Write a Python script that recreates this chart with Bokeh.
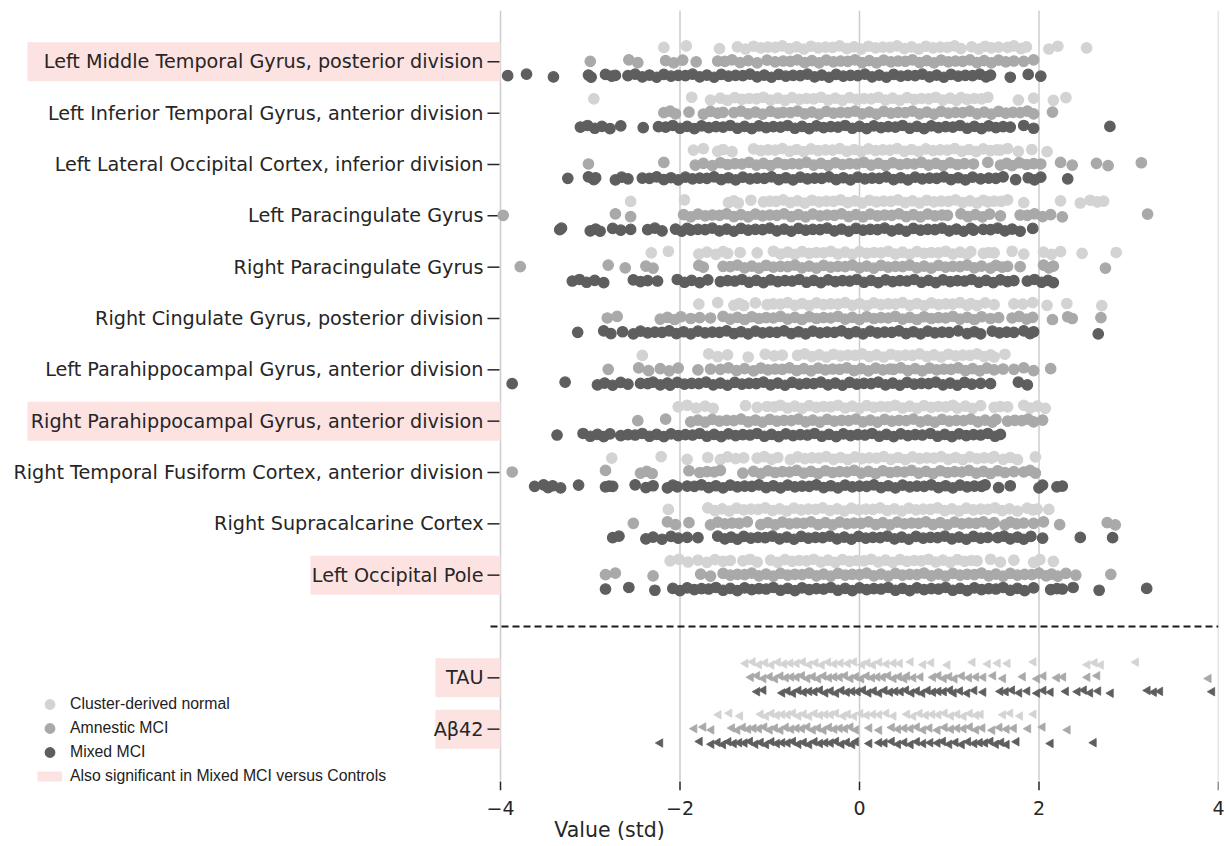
from bokeh.plotting import figure
from bokeh.models import Range1d, FixedTicker, Legend, LegendItem, ColumnDataSource
from bokeh.core.properties import value
from bokeh.embed import file_html
from bokeh.resources import INLINE
import math

# ---------------- data ----------------
regions = [
    "Left Middle Temporal Gyrus, posterior division",
    "Left Inferior Temporal Gyrus, anterior division",
    "Left Lateral Occipital Cortex, inferior division",
    "Left Paracingulate Gyrus",
    "Right Paracingulate Gyrus",
    "Right Cingulate Gyrus, posterior division",
    "Left Parahippocampal Gyrus, anterior division",
    "Right Parahippocampal Gyrus, anterior division",
    "Right Temporal Fusiform Cortex, anterior division",
    "Right Supracalcarine Cortex",
    "Left Occipital Pole",
]
biomarkers = ["TAU", "Aβ42"]
highlighted = ["Left Middle Temporal Gyrus, posterior division",
               "Right Parahippocampal Gyrus, anterior division",
               "Left Occipital Pole", "TAU", "Aβ42"]
group_names = ["Cluster-derived normal", "Amnestic MCI", "Mixed MCI"]
highlight_name = "Also significant in Mixed MCI versus Controls"

normal_regions = [
    [-2.18,-1.93,-1.56,-1.36,-1.27,-1.18,-1.10,-1.02,-0.94,-0.86,-0.78,-0.70,-0.62,-0.54,-0.46,-0.38,-0.30,-0.22,-0.14,-0.06,0.02,0.10,0.18,0.26,0.34,0.42,0.50,0.58,0.66,0.74,0.82,0.90,0.98,1.06,1.13,1.25,1.33,1.40,1.47,1.55,1.65,1.72,1.80,1.86,2.11,2.21,2.53],
    [-2.96,-1.87,-1.66,-1.55,-1.47,-1.39,-1.31,-1.23,-1.15,-1.07,-0.99,-0.91,-0.83,-0.75,-0.67,-0.59,-0.51,-0.43,-0.35,-0.27,-0.19,-0.11,-0.03,0.05,0.13,0.21,0.29,0.37,0.45,0.53,0.61,0.69,0.77,0.85,0.93,1.01,1.08,1.13,1.20,1.28,1.36,1.43,1.77,1.94,2.16,2.30],
    [-1.85,-1.74,-1.58,-1.52,-1.42,-1.18,-1.10,-1.02,-0.94,-0.86,-0.78,-0.70,-0.62,-0.54,-0.46,-0.38,-0.30,-0.22,-0.14,-0.06,0.02,0.10,0.18,0.26,0.34,0.42,0.50,0.58,0.66,0.74,0.82,0.90,0.98,1.06,1.14,1.22,1.30,1.38,1.46,1.53,1.57,1.65,1.77,1.92,2.09],
    [-2.55,-1.95,-1.46,-1.40,-1.35,-1.21,-1.07,-1.00,-0.93,-0.85,-0.77,-0.69,-0.61,-0.53,-0.45,-0.37,-0.29,-0.21,-0.13,-0.05,0.03,0.11,0.19,0.27,0.35,0.43,0.51,0.59,0.67,0.75,0.83,0.91,0.99,1.07,1.15,1.23,1.31,1.38,1.43,1.50,1.58,1.65,1.83,2.24,2.46,2.57,2.65,2.72],
    [-2.32,-2.13,-1.79,-1.70,-1.60,-1.52,-1.47,-1.33,-1.14,-0.96,-0.88,-0.80,-0.72,-0.64,-0.56,-0.48,-0.40,-0.32,-0.24,-0.16,-0.08,0.00,0.08,0.16,0.24,0.32,0.40,0.48,0.56,0.64,0.72,0.80,0.88,0.96,1.04,1.12,1.20,1.24,1.38,1.44,1.50,1.70,1.83,2.05,2.14,2.24,2.48,2.86],
    [-1.79,-1.58,-1.40,-1.34,-1.29,-1.16,-1.03,-0.96,-0.88,-0.80,-0.72,-0.64,-0.56,-0.48,-0.40,-0.32,-0.24,-0.16,-0.08,0.00,0.08,0.16,0.24,0.32,0.40,0.48,0.56,0.64,0.72,0.80,0.88,0.96,1.04,1.12,1.20,1.24,1.31,1.40,1.50,1.72,1.82,1.93,2.09,2.31,2.70],
    [-2.42,-1.68,-1.58,-1.47,-1.24,-1.05,-0.95,-0.86,-0.69,-0.61,-0.53,-0.45,-0.37,-0.29,-0.21,-0.13,-0.05,0.03,0.11,0.19,0.27,0.35,0.43,0.51,0.59,0.67,0.75,0.83,0.91,0.99,1.07,1.15,1.23,1.31,1.39,1.46,1.50,1.62],
    [-2.02,-1.92,-1.82,-1.72,-1.63,-1.27,-1.14,-1.03,-0.95,-0.88,-0.80,-0.72,-0.64,-0.56,-0.48,-0.40,-0.32,-0.24,-0.16,-0.08,0.00,0.08,0.16,0.24,0.32,0.40,0.48,0.56,0.64,0.72,0.80,0.88,0.96,1.04,1.09,1.18,1.26,1.35,1.50,1.57,1.65,1.83,1.90,1.98,2.07],
    [-2.76,-2.21,-1.92,-1.69,-1.55,-1.47,-1.38,-1.29,-1.14,-1.06,-0.98,-0.91,-0.77,-0.69,-0.61,-0.53,-0.45,-0.37,-0.29,-0.21,-0.13,-0.05,0.03,0.11,0.19,0.27,0.35,0.43,0.51,0.59,0.67,0.75,0.83,0.91,0.99,1.07,1.15,1.23,1.31,1.39,1.47,1.50,1.60,1.68,1.76,1.96],
    [-2.13,-1.69,-1.61,-1.53,-1.45,-1.37,-1.29,-1.21,-1.13,-1.05,-0.97,-0.89,-0.81,-0.73,-0.65,-0.57,-0.49,-0.41,-0.33,-0.25,-0.17,-0.09,-0.01,0.07,0.15,0.23,0.31,0.39,0.47,0.55,0.63,0.71,0.79,0.87,0.95,1.03,1.11,1.19,1.27,1.35,1.43,1.51,1.59,1.67,1.76,1.87,1.93,1.98,2.11],
    [-2.11,-2.01,-1.91,-1.80,-1.70,-1.61,-1.52,-1.44,-1.30,-1.22,-1.14,-0.99,-0.91,-0.83,-0.75,-0.67,-0.59,-0.51,-0.43,-0.35,-0.27,-0.19,-0.11,-0.03,0.05,0.13,0.21,0.29,0.37,0.45,0.53,0.61,0.69,0.77,0.85,0.93,1.01,1.09,1.17,1.25,1.31,1.46,1.57,1.72,1.94,2.01,2.16],
]
amnestic_regions = [
    [-3.00,-2.57,-2.47,-2.16,-2.07,-1.97,-1.82,-1.58,-1.50,-1.42,-1.33,-1.24,-1.14,-1.03,-0.94,-0.85,-0.77,-0.69,-0.61,-0.53,-0.45,-0.37,-0.29,-0.21,-0.13,-0.05,0.03,0.11,0.19,0.27,0.35,0.43,0.51,0.59,0.67,0.75,0.83,0.91,0.99,1.07,1.15,1.23,1.31,1.39,1.47,1.55,1.63,1.72,1.83,1.94],
    [-2.18,-2.11,-2.05,-1.90,-1.74,-1.66,-1.58,-1.52,-1.40,-1.32,-1.24,-1.16,-1.08,-0.99,-0.91,-0.85,-0.77,-0.69,-0.61,-0.53,-0.45,-0.37,-0.29,-0.21,-0.13,-0.05,0.03,0.11,0.19,0.27,0.35,0.43,0.51,0.59,0.67,0.75,0.83,0.91,0.99,1.07,1.15,1.23,1.31,1.39,1.47,1.55,1.63,1.71,1.79,1.87,1.94,2.15],
    [-3.02,-2.18,-1.83,-1.74,-1.64,-1.55,-1.47,-1.39,-1.31,-1.23,-1.15,-1.07,-0.99,-0.91,-0.83,-0.75,-0.67,-0.59,-0.51,-0.43,-0.35,-0.27,-0.19,-0.11,-0.03,0.05,0.13,0.21,0.29,0.37,0.45,0.53,0.61,0.69,0.77,0.85,0.93,1.01,1.09,1.17,1.27,1.43,1.57,1.64,1.70,1.78,1.86,1.94,2.02,2.24,2.37,2.64,2.77,3.14],
    [-3.97,-2.72,-2.55,-1.96,-1.88,-1.80,-1.72,-1.64,-1.56,-1.48,-1.40,-1.32,-1.24,-1.16,-1.08,-1.00,-0.92,-0.84,-0.76,-0.68,-0.60,-0.52,-0.44,-0.36,-0.28,-0.20,-0.12,-0.04,0.04,0.12,0.20,0.28,0.36,0.44,0.52,0.60,0.68,0.76,0.84,0.92,0.98,1.13,1.21,1.29,1.37,1.45,1.57,1.79,1.87,1.95,2.04,2.13,2.26,3.21],
    [-3.78,-2.80,-2.61,-2.38,-2.30,-1.79,-1.74,-1.52,-1.44,-1.36,-1.28,-1.20,-1.12,-1.04,-0.96,-0.88,-0.80,-0.72,-0.64,-0.56,-0.48,-0.40,-0.32,-0.24,-0.16,-0.08,0.00,0.08,0.16,0.24,0.32,0.40,0.48,0.56,0.64,0.72,0.80,0.88,0.96,1.04,1.12,1.20,1.28,1.36,1.46,1.52,1.59,1.65,1.79,2.05,2.11,2.16,2.74],
    [-2.81,-2.70,-2.22,-2.14,-2.06,-1.99,-1.88,-1.78,-1.66,-1.52,-1.44,-1.36,-1.28,-1.20,-1.12,-1.04,-0.96,-0.88,-0.80,-0.72,-0.64,-0.56,-0.48,-0.40,-0.32,-0.24,-0.16,-0.08,0.00,0.08,0.16,0.24,0.32,0.40,0.48,0.56,0.64,0.72,0.80,0.88,0.96,1.04,1.12,1.20,1.28,1.36,1.46,1.55,1.70,1.78,1.86,1.93,2.15,2.32,2.37,2.69],
    [-2.80,-2.46,-2.35,-2.22,-2.12,-2.02,-1.80,-1.66,-1.55,-1.46,-1.37,-1.28,-1.18,-1.10,-1.02,-0.94,-0.86,-0.78,-0.70,-0.62,-0.54,-0.46,-0.38,-0.30,-0.22,-0.14,-0.06,0.02,0.10,0.18,0.26,0.34,0.38,0.46,0.54,0.62,0.70,0.78,0.86,0.94,1.02,1.10,1.18,1.26,1.34,1.42,1.50,1.60,1.72,1.83,1.94,2.13],
    [-2.47,-2.16,-1.88,-1.80,-1.72,-1.64,-1.56,-1.48,-1.40,-1.32,-1.24,-1.16,-1.08,-1.00,-0.92,-0.84,-0.76,-0.68,-0.60,-0.52,-0.44,-0.36,-0.28,-0.20,-0.12,-0.04,0.04,0.12,0.20,0.28,0.36,0.44,0.52,0.60,0.68,0.76,0.84,0.92,1.00,1.08,1.16,1.24,1.32,1.40,1.48,1.52,1.65,1.73,1.81,1.88,1.94,2.04],
    [-3.87,-2.83,-2.44,-2.37,-2.31,-1.90,-1.78,-1.70,-1.62,-1.55,-1.30,-1.18,-1.10,-1.02,-0.94,-0.86,-0.78,-0.70,-0.62,-0.54,-0.46,-0.38,-0.30,-0.22,-0.14,-0.06,0.02,0.10,0.18,0.26,0.34,0.42,0.50,0.58,0.66,0.74,0.82,0.90,0.98,1.06,1.14,1.22,1.30,1.38,1.46,1.54,1.62,1.72,1.83,1.90,1.96],
    [-2.52,-2.14,-2.05,-1.90,-1.66,-1.58,-1.50,-1.42,-1.34,-1.25,-1.10,-1.02,-0.94,-0.86,-0.78,-0.70,-0.62,-0.54,-0.46,-0.38,-0.30,-0.22,-0.14,-0.06,0.02,0.10,0.18,0.26,0.34,0.42,0.50,0.58,0.66,0.74,0.82,0.90,0.98,1.06,1.14,1.22,1.30,1.38,1.46,1.50,1.62,1.68,1.75,1.83,1.94,2.05,2.23,2.76,2.85],
    [-2.83,-2.72,-2.30,-1.77,-1.66,-1.52,-1.44,-1.36,-1.28,-1.20,-1.12,-1.04,-0.96,-0.88,-0.80,-0.72,-0.64,-0.56,-0.48,-0.40,-0.32,-0.24,-0.16,-0.08,0.00,0.08,0.16,0.24,0.32,0.40,0.48,0.56,0.64,0.72,0.80,0.88,0.96,1.04,1.12,1.20,1.28,1.36,1.44,1.52,1.60,1.68,1.76,1.84,1.92,2.00,2.08,2.14,2.21,2.30,2.41,2.80],
]
mixed_regions = [
    [-3.92,-3.71,-3.41,-3.02,-2.99,-2.83,-2.76,-2.72,-2.58,-2.50,-2.42,-2.34,-2.26,-2.18,-2.10,-2.02,-1.94,-1.86,-1.78,-1.70,-1.62,-1.54,-1.46,-1.38,-1.30,-1.22,-1.14,-1.06,-0.98,-0.90,-0.82,-0.74,-0.66,-0.58,-0.50,-0.42,-0.34,-0.26,-0.18,-0.10,-0.02,0.06,0.14,0.22,0.30,0.38,0.46,0.54,0.62,0.70,0.78,0.86,0.94,1.02,1.10,1.18,1.26,1.34,1.41,1.46,1.68,1.88,2.02],
    [-3.11,-3.03,-2.95,-2.87,-2.78,-2.66,-2.41,-2.24,-2.16,-2.08,-2.00,-1.92,-1.84,-1.76,-1.68,-1.60,-1.52,-1.44,-1.36,-1.28,-1.20,-1.12,-1.04,-0.96,-0.88,-0.80,-0.72,-0.64,-0.56,-0.48,-0.40,-0.32,-0.24,-0.16,-0.08,0.00,0.08,0.16,0.24,0.32,0.40,0.48,0.56,0.64,0.72,0.80,0.88,0.96,1.04,1.12,1.20,1.28,1.36,1.44,1.52,1.60,1.68,1.83,1.94,2.79],
    [-3.25,-3.02,-2.96,-2.94,-2.72,-2.65,-2.58,-2.42,-2.34,-2.26,-2.18,-2.10,-2.02,-1.94,-1.86,-1.78,-1.70,-1.62,-1.54,-1.46,-1.38,-1.30,-1.22,-1.14,-1.06,-0.98,-0.90,-0.82,-0.74,-0.66,-0.58,-0.50,-0.42,-0.34,-0.26,-0.18,-0.10,-0.02,0.06,0.14,0.22,0.30,0.38,0.46,0.54,0.62,0.70,0.78,0.86,0.94,1.02,1.10,1.18,1.26,1.35,1.44,1.52,1.60,1.74,1.88,1.95,2.02,2.32],
    [-3.34,-3.32,-3.00,-2.94,-2.89,-2.75,-2.66,-2.55,-2.36,-2.28,-2.20,-2.05,-1.98,-1.92,-1.88,-1.80,-1.72,-1.64,-1.56,-1.48,-1.40,-1.32,-1.24,-1.16,-1.08,-1.00,-0.92,-0.84,-0.76,-0.68,-0.60,-0.52,-0.44,-0.36,-0.28,-0.20,-0.12,-0.04,0.04,0.12,0.20,0.28,0.36,0.44,0.52,0.60,0.68,0.76,0.84,0.92,1.00,1.08,1.16,1.24,1.27,1.38,1.46,1.54,1.62,1.70,1.79,1.93],
    [-3.20,-3.12,-3.04,-2.95,-2.85,-2.52,-2.44,-2.36,-2.25,-2.03,-1.95,-1.87,-1.78,-1.69,-1.55,-1.47,-1.39,-1.31,-1.23,-1.15,-1.07,-0.99,-0.91,-0.83,-0.75,-0.67,-0.59,-0.51,-0.43,-0.35,-0.27,-0.19,-0.11,-0.03,0.05,0.13,0.21,0.29,0.37,0.45,0.53,0.61,0.69,0.77,0.85,0.93,1.01,1.09,1.17,1.25,1.33,1.41,1.49,1.57,1.65,1.72,1.87,1.95,2.03,2.10,2.16],
    [-3.14,-2.85,-2.77,-2.64,-2.52,-2.44,-2.36,-2.28,-2.20,-2.12,-2.04,-1.96,-1.88,-1.80,-1.72,-1.64,-1.56,-1.48,-1.40,-1.32,-1.24,-1.16,-1.08,-1.00,-0.92,-0.84,-0.76,-0.68,-0.60,-0.52,-0.44,-0.36,-0.28,-0.20,-0.12,-0.04,0.04,0.12,0.20,0.28,0.36,0.44,0.52,0.60,0.68,0.76,0.84,0.92,1.00,1.10,1.20,1.28,1.35,1.48,1.56,1.64,1.72,1.83,1.90,1.94,2.66],
    [-3.87,-3.28,-2.92,-2.84,-2.75,-2.66,-2.58,-2.44,-2.36,-2.30,-2.22,-2.14,-2.11,-2.03,-1.95,-1.87,-1.79,-1.71,-1.63,-1.55,-1.47,-1.39,-1.31,-1.23,-1.15,-1.07,-0.99,-0.91,-0.83,-0.75,-0.67,-0.59,-0.51,-0.43,-0.35,-0.27,-0.19,-0.11,-0.03,0.05,0.13,0.21,0.29,0.37,0.45,0.53,0.61,0.69,0.77,0.85,0.93,1.01,1.09,1.17,1.25,1.35,1.46,1.77,1.87],
    [-3.37,-3.08,-3.00,-2.92,-2.85,-2.78,-2.66,-2.58,-2.50,-2.42,-2.34,-2.26,-2.18,-2.10,-2.02,-1.94,-1.86,-1.78,-1.70,-1.62,-1.54,-1.46,-1.38,-1.30,-1.22,-1.14,-1.06,-0.98,-0.90,-0.82,-0.74,-0.66,-0.58,-0.50,-0.42,-0.34,-0.26,-0.18,-0.10,-0.02,0.06,0.14,0.22,0.30,0.38,0.46,0.54,0.62,0.70,0.79,0.87,0.95,1.03,1.11,1.19,1.27,1.35,1.43,1.51,1.57],
    [-3.62,-3.52,-3.47,-3.42,-3.33,-3.13,-2.83,-2.79,-2.75,-2.50,-2.38,-2.30,-2.14,-2.08,-2.03,-1.92,-1.84,-1.76,-1.68,-1.60,-1.52,-1.44,-1.36,-1.28,-1.20,-1.12,-1.04,-0.96,-0.88,-0.80,-0.72,-0.64,-0.56,-0.48,-0.40,-0.32,-0.24,-0.16,-0.08,0.00,0.08,0.16,0.24,0.32,0.40,0.48,0.56,0.64,0.72,0.80,0.88,0.96,1.04,1.12,1.20,1.28,1.36,1.40,1.55,1.68,2.00,2.04,2.20,2.26],
    [-2.75,-2.68,-2.38,-2.30,-2.20,-2.10,-2.02,-1.92,-1.80,-1.58,-1.50,-1.43,-1.36,-1.29,-1.21,-1.13,-1.05,-0.97,-0.89,-0.81,-0.73,-0.65,-0.57,-0.49,-0.41,-0.33,-0.25,-0.17,-0.09,-0.01,0.07,0.15,0.23,0.31,0.39,0.47,0.55,0.63,0.71,0.79,0.87,0.95,1.03,1.11,1.19,1.27,1.35,1.43,1.54,1.61,1.68,1.76,1.83,1.91,2.04,2.46,2.82],
    [-2.83,-2.57,-2.28,-2.08,-2.00,-1.92,-1.84,-1.76,-1.68,-1.60,-1.52,-1.44,-1.36,-1.28,-1.20,-1.12,-1.04,-0.96,-0.88,-0.80,-0.72,-0.64,-0.56,-0.48,-0.40,-0.32,-0.24,-0.16,-0.08,0.00,0.08,0.16,0.24,0.32,0.40,0.48,0.56,0.64,0.72,0.80,0.88,0.96,1.04,1.12,1.20,1.28,1.36,1.44,1.52,1.60,1.68,1.76,1.84,1.94,2.13,2.20,2.26,2.38,2.67,3.20],
]
normal_biomarkers = [
    [-1.27,-1.19,-1.12,-1.05,-0.98,-0.91,-0.84,-0.77,-0.70,-0.63,-0.56,-0.49,-0.42,-0.35,-0.28,-0.21,-0.13,-0.06,0.03,0.09,0.15,0.22,0.30,0.38,0.45,0.57,0.71,0.80,0.98,1.26,1.43,1.54,1.65,1.94,2.54,2.62,2.69,3.08],
    [-1.57,-1.45,-1.33,-1.10,-1.04,-0.98,-0.92,-0.86,-0.80,-0.74,-0.68,-0.62,-0.56,-0.50,-0.44,-0.38,-0.32,-0.26,-0.18,-0.13,-0.06,0.01,0.08,0.15,0.22,0.30,0.38,0.53,0.60,0.67,0.74,0.81,0.88,0.95,1.02,1.09,1.16,1.23,1.30,1.35,1.60,1.68,1.79,1.94],
]
amnestic_biomarkers = [
    [-1.21,-1.14,-1.07,-1.00,-0.94,-0.88,-0.82,-0.76,-0.70,-0.64,-0.58,-0.52,-0.46,-0.40,-0.34,-0.28,-0.22,-0.16,-0.10,-0.04,0.02,0.08,0.14,0.20,0.26,0.32,0.38,0.44,0.50,0.53,0.60,0.68,0.82,0.88,0.94,1.00,1.06,1.14,1.22,1.30,1.38,1.49,1.60,1.82,1.98,2.05,2.20,2.27,2.54,2.65,3.89],
    [-1.84,-1.74,-1.65,-1.42,-1.36,-1.30,-1.24,-1.18,-1.12,-1.06,-1.00,-0.94,-0.88,-0.82,-0.76,-0.70,-0.64,-0.58,-0.52,-0.46,-0.40,-0.34,-0.28,-0.22,-0.16,-0.10,-0.04,0.11,0.22,0.36,0.43,0.50,0.57,0.64,0.71,0.78,0.87,0.95,1.02,1.09,1.16,1.23,1.30,1.37,1.48,1.56,1.64,1.72,1.88,2.04,2.32],
]
mixed_biomarkers = [
    [-1.14,-1.07,-0.86,-0.80,-0.74,-0.68,-0.62,-0.56,-0.50,-0.44,-0.38,-0.32,-0.26,-0.20,-0.14,-0.08,-0.02,0.04,0.10,0.16,0.22,0.28,0.34,0.40,0.46,0.52,0.58,0.64,0.70,0.76,0.82,0.88,0.94,1.01,1.05,1.12,1.20,1.28,1.38,1.57,1.63,1.70,1.78,1.87,1.98,2.05,2.13,2.30,2.43,2.50,2.57,2.66,2.80,3.21,3.28,3.35,3.93],
    [-2.22,-1.78,-1.65,-1.58,-1.52,-1.46,-1.40,-1.34,-1.28,-1.22,-1.16,-1.10,-1.04,-0.98,-0.92,-0.86,-0.80,-0.74,-0.68,-0.62,-0.56,-0.50,-0.44,-0.38,-0.32,-0.26,-0.20,-0.14,-0.08,-0.04,0.11,0.22,0.28,0.36,0.43,0.50,0.57,0.64,0.71,0.79,0.87,0.93,1.00,1.07,1.14,1.21,1.28,1.34,1.40,1.46,1.52,1.58,1.64,1.75,2.13,2.61],
]
x_ticks = [-4, -2, 0, 2, 4]

# ---------------- layout / style ----------------
PX = 89.75            # screen px per std unit
AXIS_PX = 500         # figure px where x = -4
X_START = -4 - AXIS_PX / PX
X_END = 4.0
ROW_PX = 51.333       # screen px per category row
TOP_PX = 10           # frame top
GRID_BOTTOM_ROW = 14  # gridlines stop one row below last category
EXTRA_PX = 10         # frame continues below gridlines (room for legend)

def off(px):
    """x value at a pixel offset from the x = -4 axis line"""
    return -4 + px / PX

colors = ["#d3d3d3", "#a9a9a9", "#5e5e5e"]
group_offset = [-0.28, -0.01, 0.27]
jitter = [0.0, -0.03, 0.024, -0.012, 0.03, -0.024, 0.01, -0.006]
box_left_px = {   # left edge of pink label highlight, px from axis line
    "Left Middle Temporal Gyrus, posterior division": -473,
    "Right Parahippocampal Gyrus, anterior division": -473,
    "Left Occipital Pole": -190,
    "TAU": -65,
    "Aβ42": -65,
}
TXT = "#262626"
PINK = "#fde2e2"

region_pos = list(range(len(regions)))
sep_pos = len(regions)
bio_pos = [sep_pos + 1 + i for i in range(len(biomarkers))]
labels = regions + biomarkers
label_pos = region_pos + bio_pos

frame_h = int(round(ROW_PX * (GRID_BOTTOM_ROW + 1))) + EXTRA_PX
p = figure(frame_width=int(AXIS_PX + 8 * PX), frame_height=frame_h,
           x_range=Range1d(X_START, X_END),
           y_range=Range1d(-1 + frame_h / ROW_PX, -1),
           output_backend="svg", toolbar_location=None,
           y_axis_location=None,
           min_border_left=0, min_border_right=7,
           min_border_top=TOP_PX, min_border_bottom=0)
p.outline_line_color = None
p.background_fill_color = "white"
p.xgrid.visible = False
p.ygrid.visible = False
p.xaxis.ticker = FixedTicker(ticks=x_ticks)
p.xaxis.major_label_overrides = {t: (("\u2212" + str(abs(t))) if t < 0 else str(t)) for t in x_ticks}
p.xaxis.axis_line_color = None
p.xaxis.major_tick_out = 0
p.xaxis.major_tick_in = 0
p.xaxis.minor_tick_line_color = None
p.xaxis.major_label_text_font = "DejaVu Sans"
p.xaxis.major_label_text_font_size = "19px"
p.xaxis.major_label_text_color = TXT
p.xaxis.major_label_standoff = 10
p.xaxis.axis_label = "Value (std)"
p.xaxis.axis_label_text_font = "DejaVu Sans"
p.xaxis.axis_label_text_font_size = "20.5px"
p.xaxis.axis_label_text_font_style = "normal"
p.xaxis.axis_label_text_color = TXT
p.xaxis.axis_label_standoff = 0

# vertical grid lines (stop at last row boundary) and bottom tick marks
p.segment(x0=x_ticks, x1=x_ticks, y0=[-1] * len(x_ticks), y1=[GRID_BOTTOM_ROW] * len(x_ticks),
          line_color="#cccccc", line_width=1.5)
p.segment(x0=x_ticks, x1=x_ticks, y0=[GRID_BOTTOM_ROW + 1 / ROW_PX] * len(x_ticks),
          y1=[GRID_BOTTOM_ROW + 10 / ROW_PX] * len(x_ticks),
          line_color=TXT, line_width=1.5)

# pink highlight boxes behind labels
hl = [l for l in labels if l in highlighted]
hl_pos = [label_pos[labels.index(l)] for l in hl]
p.quad(left=[off(box_left_px[l]) for l in hl], right=[-4.0] * len(hl),
       bottom=[y + 0.38 for y in hl_pos], top=[y - 0.38 for y in hl_pos],
       fill_color=PINK, line_color=None)

# category labels + tick marks
p.text(x=[off(-17)] * len(labels), y=label_pos, text=labels,
       text_align="right", text_baseline="middle",
       text_font=value("DejaVu Sans"), text_font_size="19.2px", text_color=TXT)
p.segment(x0=[off(-13)] * len(labels), x1=[off(-1)] * len(labels),
          y0=label_pos, y1=label_pos, line_color=TXT, line_width=1.5)

# separator
p.segment(x0=[off(-10)], x1=[X_END], y0=[sep_pos], y1=[sep_pos],
          line_color="#1a1a1a", line_width=2, line_dash="7 4")

def build(values, positions, goff):
    xs, ys = [], []
    for vals, pos in zip(values, positions):
        for i, v in enumerate(vals):
            xs.append(v)
            ys.append(pos + goff + jitter[i % len(jitter)])
    return ColumnDataSource(dict(x=xs, y=ys))

circle_renderers = []
for g, (rv, bv) in enumerate([(normal_regions, normal_biomarkers),
                              (amnestic_regions, amnestic_biomarkers),
                              (mixed_regions, mixed_biomarkers)]):
    rc = p.scatter("x", "y", source=build(rv, region_pos, group_offset[g]),
                   marker="circle", size=10.5, fill_color=colors[g], line_color=colors[g],
                   line_width=1.2)
    circle_renderers.append(rc)
    p.scatter("x", "y", source=build(bv, bio_pos, group_offset[g]),
              marker="triangle", angle=math.pi / 2, size=8.5,
              fill_color=colors[g], line_color=colors[g], line_width=0.8)

# legend swatch for highlight: thick line kept outside the visible x range
r_hl = p.line(x=[X_START - 2, X_START - 1], y=[0, 0], line_color=PINK,
              line_width=10, line_cap="butt")

legend = Legend(items=[LegendItem(label=group_names[0], renderers=[circle_renderers[0]]),
                       LegendItem(label=group_names[1], renderers=[circle_renderers[1]]),
                       LegendItem(label=group_names[2], renderers=[circle_renderers[2]]),
                       LegendItem(label=highlight_name, renderers=[r_hl])],
                location=(37, 2), orientation="vertical",
                border_line_color=None, background_fill_alpha=0,
                padding=0, margin=0, spacing=0,
                glyph_height=24, glyph_width=25, label_height=24,
                label_standoff=8,
                label_text_font="Liberation Sans", label_text_font_size="15.8px",
                label_text_color="#222222")
p.add_layout(legend)

open("out.html", "w").write(file_html(p, INLINE))
